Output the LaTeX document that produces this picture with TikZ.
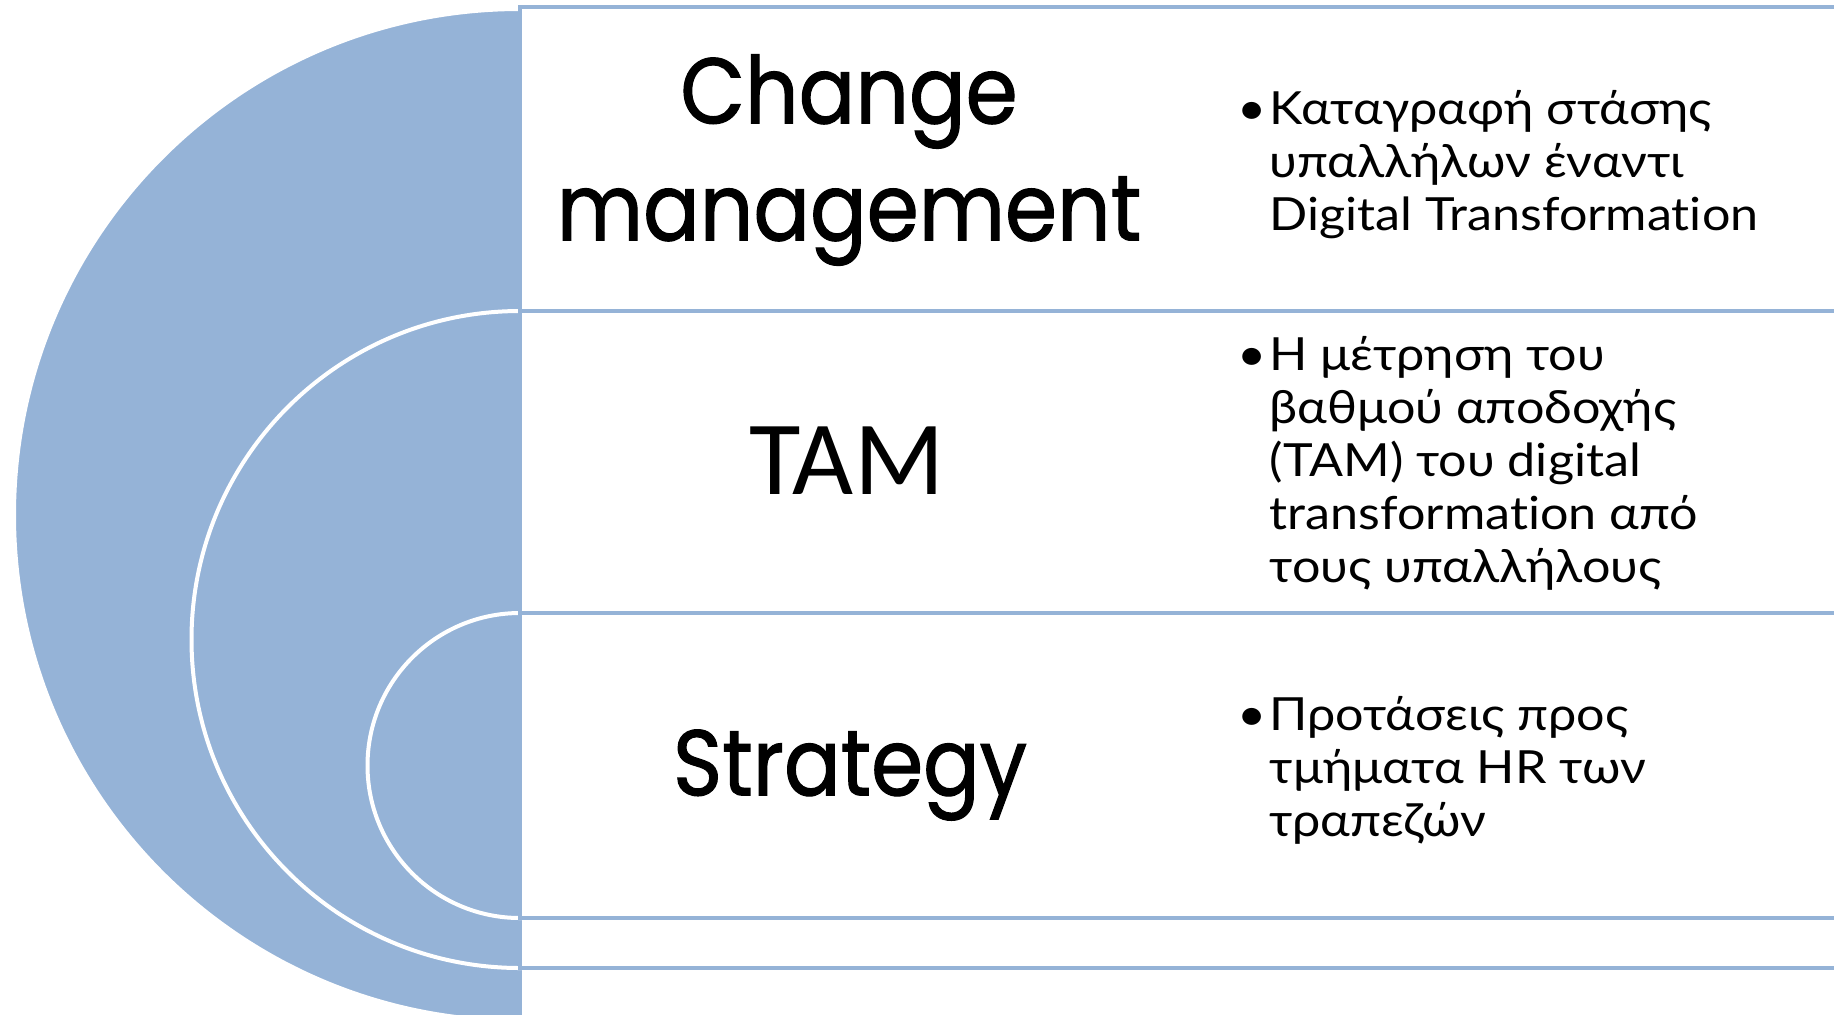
\documentclass[tikz,border=0pt]{standalone}
\usepackage{fontspec}
\setmainfont{Lato}[FakeStretch=1.1, Ligatures=NoCommon]
\newfontfamily\headfont{Poppins}[FakeBold=1.2, FakeStretch=0.9]
\newfontfamily\tamfont{Carlito}
\definecolor{tierblue}{HTML}{95B3D7}
\tikzset{tier/.style={fill=tierblue, draw=white, line width=0.4mm}}
\tikzset{panel/.style={fill=white, draw=tierblue, line width=0.4mm}}
\tikzset{heading/.style={align=center, inner sep=0pt, font=\headfont\fontsize{26.5}{33.3}\selectfont}}
\tikzset{bullets/.style={anchor=west, inner sep=0pt, font=\fontsize{13}{15.1}\selectfont}}
\newcommand\bulletlines[1]{\makebox[3.2mm][l]{\textbullet}\begin{tabular}[t]{@{}l@{}}#1\end{tabular}}

\begin{document}
\begin{tikzpicture}[x=0.1mm, y=-0.1mm]
    \useasboundingbox (0,0) rectangle (1834,1014);
    \clip (0,0) rectangle (1834,1014);
    \draw[tier] (520,9) arc[start angle=90, end angle=270, radius=50.6mm] -- cycle;
    \draw[panel] (520,7) rectangle (1900,1021);
    \draw[tier] (520,311) arc[start angle=90, end angle=270, radius=32.85mm] -- cycle;
    \draw[panel] (520,311) rectangle (1900,968);
    \draw[tier] (520,613) arc[start angle=90, end angle=270, radius=15.25mm] -- cycle;
    \draw[panel] (520,613) rectangle (1900,918);
    \node[heading] (change) at (849,160) {Change\\management};
    \node[heading, font=\tamfont\fontsize{30}{36}\selectfont] (tam) at (847,461) {TAM};
    \node[heading] (strategy) at (850,775) {Strategy};
    \node[bullets] (change text) at (1237,167) {\bulletlines{Καταγραφή στάσης\\υπαλλήλων έναντι\\Digital Transformation}};
    \node[bullets] (tam text) at (1237,466) {\bulletlines{Η μέτρηση του\\βαθμού αποδοχής\\(TAM) του digital\\transformation από\\τους υπαλλήλους}};
    \node[bullets] (strategy text) at (1237,773) {\bulletlines{Προτάσεις προς\\τμήματα HR των\\τραπεζών}};
\end{tikzpicture}
\end{document}
